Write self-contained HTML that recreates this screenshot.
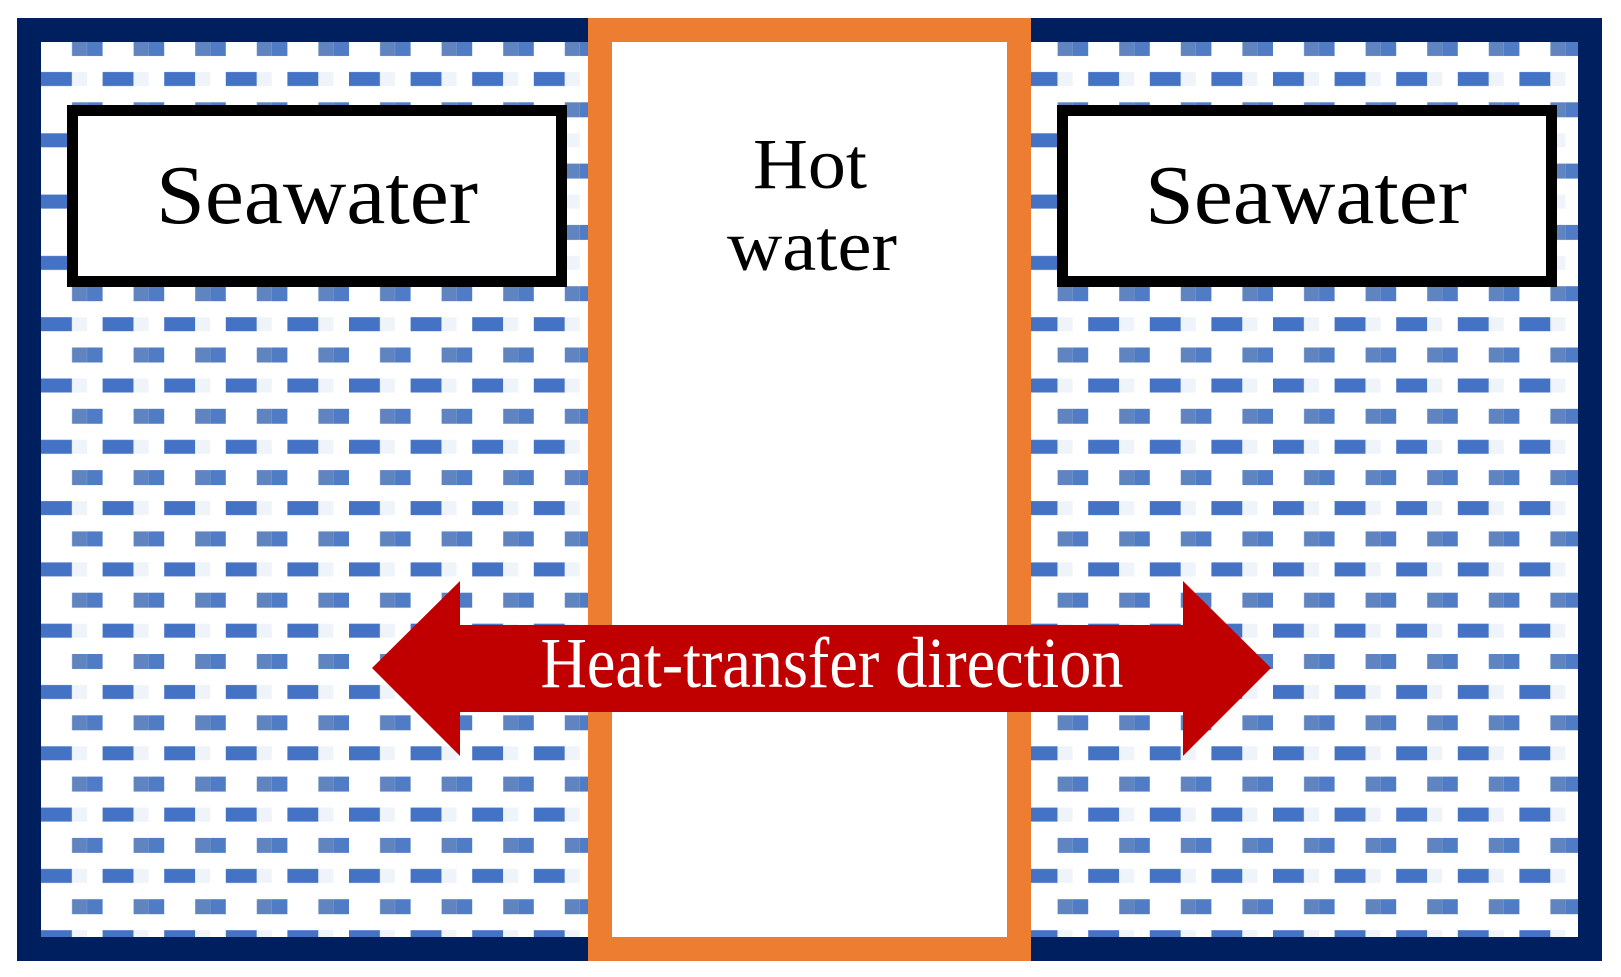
<!DOCTYPE html>
<html><head><meta charset="utf-8"><style>html,body{margin:0;padding:0;background:#fff}svg{display:block}</style></head>
<body>
<svg width="1621" height="977" viewBox="0 0 1621 977" xmlns="http://www.w3.org/2000/svg">
<defs>
<pattern id="p" x="41" y="41" width="61.6" height="61.3" patternUnits="userSpaceOnUse">
<rect x="31" y="0" width="15" height="15" fill="#5f84c0"/>
<rect x="46" y="0" width="15.6" height="15" fill="#4f7cc4"/>
<rect x="0" y="31" width="31" height="14" fill="#4472c4"/>
<rect x="31" y="31" width="15" height="14" fill="#eef4fa"/>
</pattern>
</defs>
<rect x="0" y="0" width="1621" height="977" fill="#fff"/>
<rect x="29" y="30" width="1561" height="919" fill="url(#p)" stroke="#001f5f" stroke-width="24"/>
<rect x="600" y="30" width="419" height="919" fill="#fff" stroke="#ed7d31" stroke-width="24"/>
<rect x="72.5" y="110.5" width="489" height="171" fill="#fff" stroke="#000" stroke-width="11"/>
<rect x="1062.5" y="110.5" width="489" height="171" fill="#fff" stroke="#000" stroke-width="11"/>
<g font-family="'Liberation Serif', serif" fill="#000" text-anchor="middle">
<text x="317" y="223" font-size="84" textLength="322" lengthAdjust="spacingAndGlyphs">Seawater</text>
<text x="1306" y="223" font-size="84" textLength="322" lengthAdjust="spacingAndGlyphs">Seawater</text>
<text x="810" y="188" font-size="72" textLength="114" lengthAdjust="spacingAndGlyphs">Hot</text>
<text x="812" y="270" font-size="72" textLength="170" lengthAdjust="spacingAndGlyphs">water</text>
</g>
<polygon points="372,668 460,581 460,625 1183,625 1183,581 1271,668 1183,756 1183,712 460,712 460,756" fill="#c00000"/>
<text x="832" y="687" font-family="'Liberation Serif', serif" font-size="72" fill="#fff" text-anchor="middle" textLength="583" lengthAdjust="spacingAndGlyphs">Heat-transfer direction</text>
</svg>
</body></html>
